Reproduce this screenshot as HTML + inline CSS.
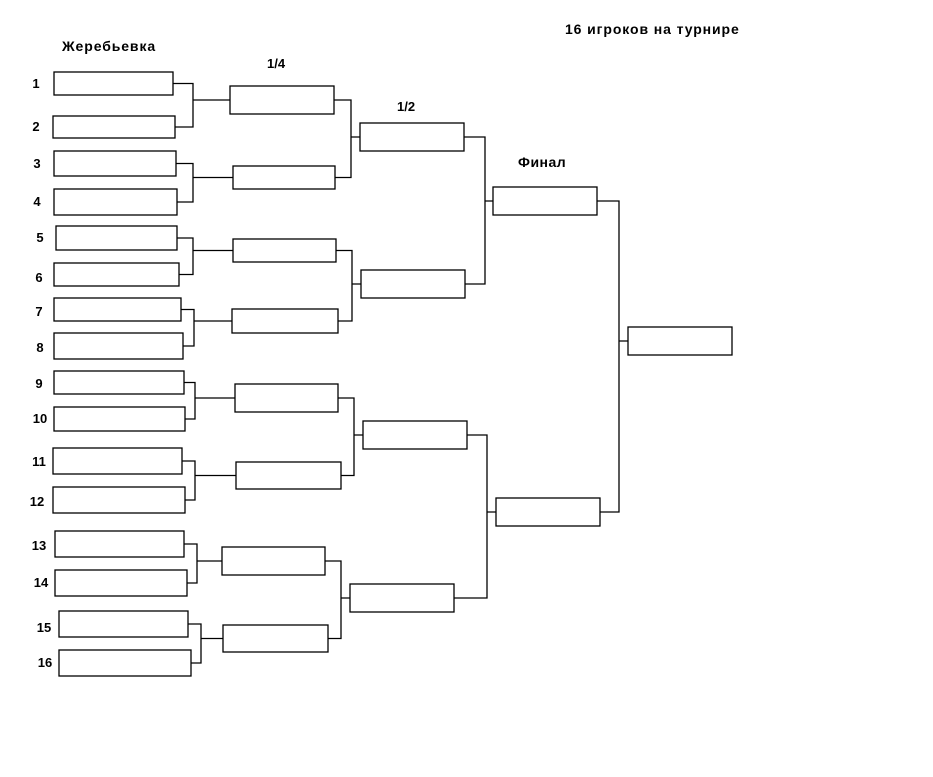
<!DOCTYPE html><html><head><meta charset="utf-8"><style>body{margin:0;background:#fff}svg{display:block}text{font-family:"Liberation Sans",sans-serif;font-weight:bold;font-size:13px;fill:#000}.w{font-size:14px;letter-spacing:0.9px}</style></head><body>
<svg width="933" height="777" xmlns="http://www.w3.org/2000/svg">
<g fill="#fff" stroke="#000" stroke-width="1.3">
<rect x="54" y="72" width="119" height="23"/><rect x="53" y="116" width="122" height="22"/>
<rect x="54" y="151" width="122" height="25"/><rect x="54" y="189" width="123" height="26"/>
<rect x="56" y="226" width="121" height="24"/><rect x="54" y="263" width="125" height="23"/>
<rect x="54" y="298" width="127" height="23"/><rect x="54" y="333" width="129" height="26"/>
<rect x="54" y="371" width="130" height="23"/><rect x="54" y="407" width="131" height="24"/>
<rect x="53" y="448" width="129" height="26"/><rect x="53" y="487" width="132" height="26"/>
<rect x="55" y="531" width="129" height="26"/><rect x="55" y="570" width="132" height="26"/>
<rect x="59" y="611" width="129" height="26"/><rect x="59" y="650" width="132" height="26"/>
<rect x="230" y="86" width="104" height="28"/><rect x="233" y="166" width="102" height="23"/>
<rect x="233" y="239" width="103" height="23"/><rect x="232" y="309" width="106" height="24"/>
<rect x="235" y="384" width="103" height="28"/><rect x="236" y="462" width="105" height="27"/>
<rect x="222" y="547" width="103" height="28"/><rect x="223" y="625" width="105" height="27"/>
<rect x="360" y="123" width="104" height="28"/><rect x="361" y="270" width="104" height="28"/>
<rect x="363" y="421" width="104" height="28"/><rect x="350" y="584" width="104" height="28"/>
<rect x="493" y="187" width="104" height="28"/><rect x="496" y="498" width="104" height="28"/>
<rect x="628" y="327" width="104" height="28"/>
</g>
<g fill="none" stroke="#000" stroke-width="1.3">
<path d="M173 83.5H193V127H175M193 100H230"/>
<path d="M176 163.5H193V202H177M193 177.5H233"/>
<path d="M177 238H193V274.5H179M193 250.5H233"/>
<path d="M181 309.5H194V346H183M194 321H232"/>
<path d="M184 382.5H195V419H185M195 398H235"/>
<path d="M182 461H195V500H185M195 475.5H236"/>
<path d="M184 544H197V583H187M197 561H222"/>
<path d="M188 624H201V663H191M201 638.5H223"/>
<path d="M334 100H351V177.5H335M351 137H360"/>
<path d="M336 250.5H352V321H338M352 284H361"/>
<path d="M338 398H354V475.5H341M354 435H363"/>
<path d="M325 561H341V638.5H328M341 598H350"/>
<path d="M464 137H485V284H465M485 201H493"/>
<path d="M467 435H487V598H454M487 512H496"/>
<path d="M597 201H619V512H600M619 341H628"/>
</g>
<text class="w" x="62" y="51">Жеребьевка</text>
<text x="267" y="68">1/4</text>
<text x="397" y="111">1/2</text>
<text class="w" x="518" y="167" style="letter-spacing:0.5px">Финал</text>
<text class="w" x="565" y="34">16 игроков на турнире</text>
<g text-anchor="middle">
<text x="36" y="88">1</text><text x="36" y="131">2</text><text x="37" y="168">3</text><text x="37" y="206">4</text>
<text x="40" y="242">5</text><text x="39" y="282">6</text><text x="39" y="316">7</text><text x="40" y="352">8</text>
<text x="39" y="388">9</text><text x="40" y="423">10</text><text x="39" y="466">11</text><text x="37" y="506">12</text>
<text x="39" y="550">13</text><text x="41" y="587">14</text><text x="44" y="632">15</text><text x="45" y="667">16</text>
</g>
</svg></body></html>
